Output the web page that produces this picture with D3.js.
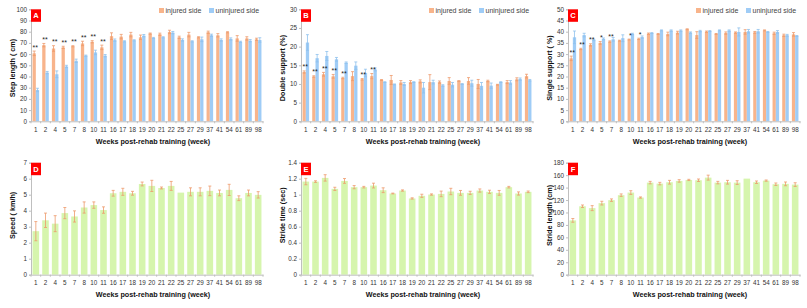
<!DOCTYPE html>
<html>
<head>
<meta charset="utf-8">
<script src="https://cdn.jsdelivr.net/npm/d3@7"></script>
<style>
  body { margin: 0; background: #fff; }
  svg { display: block; font-family: "Liberation Sans", Arial, sans-serif; }
</style>
</head>
<body>
<svg id="chart" width="807" height="308"></svg>
<script>
// Categories: weeks post-rehab training
const weeks = ["1", "2", "4", "5", "7", "8", "10", "11", "16", "17", "18", "19", "20", "21", "22", "25", "27", "29", "37", "41", "54", "61", "89", "98"];

// A - step length (cm)
const stepInjured = [60.7, 68, 65, 66, 67, 69.5, 71, 66, 76, 75.6, 77.4, 75, 78.3, 77.7, 79.8, 75, 77.4, 75, 79.5, 76.8, 79.5, 74, 74, 73.2];
const stepInjuredErr = [2, 1.5, 2.5, 1, 0.5, 2, 1, 2, 3, 2, 2, 2, 0.5, 1, 1.5, 1, 2, 0.5, 1, 1.5, 0.5, 2.5, 1.5, 1];
const stepUninjured = [28, 43.5, 42, 49, 54, 58.6, 61.5, 58.6, 72.5, 71.4, 72.3, 76.5, 74.4, 75, 79.2, 72.6, 71.4, 73.2, 76.8, 72.6, 73.5, 71, 72, 72.6];
const stepUninjuredErr = [1.5, 1, 3, 1, 1.5, 0.5, 2, 1, 1, 0.5, 0.5, 1, 0.5, 0.5, 1, 1, 0.5, 2, 1, 1, 1, 0.5, 1, 2];
const stepMarks = ["**", "**", "**", "**", "**", "**", "**", "**"];

// B - double support (%)
const dsInjured = [13.2, 12.0, 12.6, 12.05, 11.6, 12.1, 11.25, 12.1, 11.07, 11.07, 10.4, 10.5, 10.7, 10.5, 10.5, 10.8, 10.8, 10.8, 10.0, 10.8, 9.8, 10.5, 11.25, 12.1];
const dsInjuredErr = [0.3, 0.2, 0.5, 0.5, 0.2, 1.2, 0.2, 0.7, 0.1, 1.2, 0.5, 0.4, 0.4, 2.0, 0.3, 0.9, 0.1, 0.9, 1.2, 0.2, 0.1, 0.4, 0.4, 0.5];
const dsUninjured = [21.1, 16.9, 17.5, 16.6, 15.7, 14.9, 12.95, 13.9, 10.5, 9.9, 10.0, 10.5, 9.0, 10.5, 9.6, 9.8, 10.0, 10.2, 9.5, 9.55, 10.5, 10.4, 11.3, 11.0];
const dsUninjuredErr = [2.1, 1.0, 1.2, 0.5, 0.2, 1.0, 1.0, 0.4, 0.1, 0.1, 0.4, 0.1, 1.4, 0.5, 0.2, 0.6, 0.1, 0.8, 0.9, 0.7, 0.1, 0.5, 0.3, 0.2];
const dsMarks = ["**", "**", "**", "**", "**", "", "**", "**"];

// C - single support (%)
const ssInjured = [28.1, 32.3, 34.1, 35.0, 35.6, 36.0, 36.5, 36.8, 39.1, 39.0, 39.0, 39.6, 41.1, 38.5, 40.0, 39.0, 39.4, 39.6, 39.9, 39.7, 40.6, 39.3, 38.4, 38.8];
const ssInjuredErr = [1, 0.3, 0.5, 0.6, 0.3, 0.2, 0.2, 0.3, 0.3, 0.2, 0.8, 0.6, 0.2, 1.5, 0.3, 0.2, 0.5, 0.3, 1, 0.4, 0.2, 0.5, 0.5, 0.8];
const ssUninjured = [37.5, 38.5, 36.3, 36.8, 36.6, 37.1, 39.0, 37.6, 39.4, 40.6, 40.5, 40.5, 39.6, 40.3, 40.3, 40.6, 40.5, 39.9, 40.2, 40.2, 39.9, 39.9, 38.4, 38.1];
const ssUninjuredErr = [2.8, 0.8, 0.3, 0.4, 0.8, 1.5, 0.3, 0.5, 0.2, 0.2, 0.3, 0.3, 0.3, 0.3, 0.2, 0.2, 0.3, 1.8, 0.8, 0.8, 0.2, 0.6, 0.4, 0.2];
const ssMarks = ["**", "**", "**", "*", "**", "", "*", "*"];

// D - speed (km/h)
const speed = [2.72, 3.40, 3.19, 3.85, 3.64, 4.2, 4.35, 4.04, 5.09, 5.18, 5.09, 5.67, 5.55, 5.42, 5.55, 5.13, 5.18, 5.18, 5.24, 5.11, 5.3, 4.78, 5.11, 4.99];
const speedErr = [0.6, 0.45, 0.5, 0.35, 0.35, 0.35, 0.2, 0.2, 0.18, 0.22, 0.12, 0.12, 0.35, 0.06, 0.28, 0, 0.25, 0.25, 0.3, 0.18, 0.35, 0.15, 0.18, 0.2];

// E - stride time (sec)
const strideTime = [1.164, 1.164, 1.21, 1.073, 1.172, 1.094, 1.094, 1.114, 1.056, 1.015, 1.052, 0.953, 0.986, 1.002, 1.01, 1.04, 1.023, 1.023, 1.052, 1.036, 1.023, 1.094, 1.015, 1.036];
const strideTimeErr = [0.04, 0.01, 0.04, 0.02, 0.03, 0.02, 0.01, 0.03, 0.03, 0.005, 0.008, 0.008, 0.02, 0.008, 0.035, 0.04, 0.03, 0.02, 0.02, 0.02, 0.03, 0.01, 0.02, 0.01];

// F - stride length (cm)
const strideLength = [87.3, 110, 107, 115, 119.8, 127.8, 132, 124, 148, 146.4, 148.6, 150.7, 152.3, 151.8, 156, 148, 148.6, 148, 154.4, 148.6, 151.2, 145.4, 146, 144.8];
const strideLengthErr = [3, 2, 4, 3, 2, 2, 3, 1, 2, 2, 3, 2, 1, 2, 4, 2, 3, 3, 0, 2, 1, 2, 3, 3];

const orange = "#F8B48B";
const blue = "#9FCCF6";
const green = "#D6F5AD";
const orangeErr = "#EE9B6C";
const blueErr = "#8FC1EE";
const axisGrey = "#BFBFBF";

const svg = d3.select("#chart");
const plotLeft = 31, plotRight = 263, plotTop = 9.3, plotBottom = 121.3;

function drawPanel(p) {
  const g = svg.append("g").attr("transform", `translate(${p.x},${p.y})`);

  const x = d3.scaleBand().domain(weeks).range([plotLeft, plotRight]).paddingInner(0.32).paddingOuter(0.16);
  const y = d3.scaleLinear().domain([0, p.max]).range([plotBottom, plotTop]);

  // y axis
  const yAxis = d3.axisLeft(y)
    .tickValues(d3.range(0, p.max + p.step / 2, p.step))
    .tickSize(2).tickPadding(2)
    .tickFormat(p.fmt);
  const ya = g.append("g").attr("transform", `translate(${plotLeft},0)`).call(yAxis);
  ya.select(".domain").attr("stroke", axisGrey);
  ya.selectAll(".tick line").attr("stroke", axisGrey);
  ya.selectAll("text").attr("font-size", 6.3).attr("fill", "#333");

  // bars
  const series = p.series;
  const inner = d3.scaleBand().domain(series.map(s => s.name)).range([0, x.bandwidth()]);
  series.forEach(s => {
    const bw = inner.bandwidth();
    const bars = g.append("g");
    bars.selectAll("rect").data(s.values).join("rect")
      .attr("x", (d, i) => x(weeks[i]) + inner(s.name))
      .attr("y", d => y(d))
      .attr("width", bw)
      .attr("height", d => y(0) - y(d))
      .attr("fill", s.color);
    const err = g.append("g").attr("stroke", s.errColor).attr("stroke-width", 0.8);
    s.values.forEach((v, i) => {
      const e = s.err[i];
      if (!e) return;
      const cx = x(weeks[i]) + inner(s.name) + bw / 2;
      err.append("line").attr("x1", cx).attr("x2", cx).attr("y1", y(v - e)).attr("y2", y(v + e));
      [v - e, v + e].forEach(t => {
        err.append("line").attr("x1", cx - 1.5).attr("x2", cx + 1.5).attr("y1", y(t)).attr("y2", y(t));
      });
    });
  });

  // significance marks
  if (p.marks) {
    const s0 = series[0];
    g.append("g").selectAll("text").data(p.marks).join("text")
      .attr("x", (d, i) => x(weeks[i]) + x.bandwidth() / 2 - 0.5)
      .attr("y", (d, i) => y(s0.values[i] + s0.err[i]) - 1.5)
      .attr("text-anchor", "middle")
      .attr("font-size", 7)
      .attr("fill", "#222")
      .text(d => d);
  }

  // x axis
  const xAxis = d3.axisBottom(x).tickSize(0).tickPadding(6);
  const xa = g.append("g").attr("transform", `translate(0,${plotBottom})`).call(xAxis);
  xa.select(".domain").attr("stroke", axisGrey);
  xa.selectAll("text").attr("font-size", 6.3).attr("fill", "#333");
  const step = x.step();
  g.append("g").attr("stroke", axisGrey).selectAll("line")
    .data(d3.range(weeks.length + 1)).join("line")
    .attr("x1", i => plotLeft + i * step).attr("x2", i => plotLeft + i * step)
    .attr("y1", plotBottom).attr("y2", plotBottom + 2);

  // axis titles
  g.append("text")
    .attr("x", (plotLeft + plotRight) / 2 + 6).attr("y", 143.5)
    .attr("text-anchor", "middle").attr("font-size", 7.2).attr("font-weight", "bold").attr("fill", "#111")
    .text("Weeks post-rehab training (week)");
  g.append("text")
    .attr("transform", `translate(14.5,${p.titleY}) rotate(-90)`)
    .attr("text-anchor", "middle").attr("font-size", 7.2).attr("font-weight", "bold").attr("fill", "#111")
    .text(p.yTitle);

  // panel letter
  g.append("rect").attr("x", plotLeft).attr("y", plotTop).attr("width", 10).attr("height", 12.5).attr("fill", "#FF0000");
  g.append("text").attr("x", plotLeft + 5).attr("y", plotTop + 9).attr("text-anchor", "middle")
    .attr("font-size", 7.5).attr("font-weight", "bold").attr("fill", "#fff").text(p.letter);

  // legend
  if (p.legend) {
    const lg = g.append("g").attr("transform", "translate(159,10.5)");
    const items = [{ label: "injured side", color: orange, dx: 0 }, { label: "uninjured side", color: blue, dx: 50 }];
    items.forEach(it => {
      lg.append("rect").attr("x", it.dx).attr("y", -2.5).attr("width", 5).attr("height", 5).attr("fill", it.color);
      lg.append("text").attr("x", it.dx + 6.5).attr("y", 2.5).attr("font-size", 7).attr("fill", "#444").text(it.label);
    });
  }
}

const fmtInt = d3.format("d");
const fmtE = d => d === 0 ? "0" : (d === 1 ? "1" : d3.format(".1f")(d));

drawPanel({
  x: 0, y: 0, letter: "A", max: 100, step: 10, fmt: fmtInt, yTitle: "Step length ( cm)", titleY: 68, legend: true,
  series: [
    { name: "injured", values: stepInjured, err: stepInjuredErr, color: orange, errColor: orangeErr },
    { name: "uninjured", values: stepUninjured, err: stepUninjuredErr, color: blue, errColor: blueErr }
  ],
  marks: stepMarks
});
drawPanel({
  x: 270, y: 0, letter: "B", max: 30, step: 5, fmt: fmtInt, yTitle: "Double support (%)", titleY: 68, legend: true,
  series: [
    { name: "injured", values: dsInjured, err: dsInjuredErr, color: orange, errColor: orangeErr },
    { name: "uninjured", values: dsUninjured, err: dsUninjuredErr, color: blue, errColor: blueErr }
  ],
  marks: dsMarks
});
drawPanel({
  x: 537, y: 0, letter: "C", max: 50, step: 5, fmt: fmtInt, yTitle: "Single support ( %)", titleY: 68, legend: true,
  series: [
    { name: "injured", values: ssInjured, err: ssInjuredErr, color: orange, errColor: orangeErr },
    { name: "uninjured", values: ssUninjured, err: ssUninjuredErr, color: blue, errColor: blueErr }
  ],
  marks: ssMarks
});
drawPanel({
  x: 0, y: 153.4, letter: "D", max: 7, step: 1, fmt: fmtInt, yTitle: "Speed ( km/h)", titleY: 62,
  series: [{ name: "all", values: speed, err: speedErr, color: green, errColor: orangeErr }]
});
drawPanel({
  x: 270, y: 153.4, letter: "E", max: 1.4, step: 0.2, fmt: fmtE, yTitle: "Stride time (sec)", titleY: 62,
  series: [{ name: "all", values: strideTime, err: strideTimeErr, color: green, errColor: orangeErr }]
});
drawPanel({
  x: 537, y: 153.4, letter: "F", max: 180, step: 20, fmt: fmtInt, yTitle: "Stride length (cm)", titleY: 62,
  series: [{ name: "all", values: strideLength, err: strideLengthErr, color: green, errColor: orangeErr }]
});
</script>
</body>
</html>
